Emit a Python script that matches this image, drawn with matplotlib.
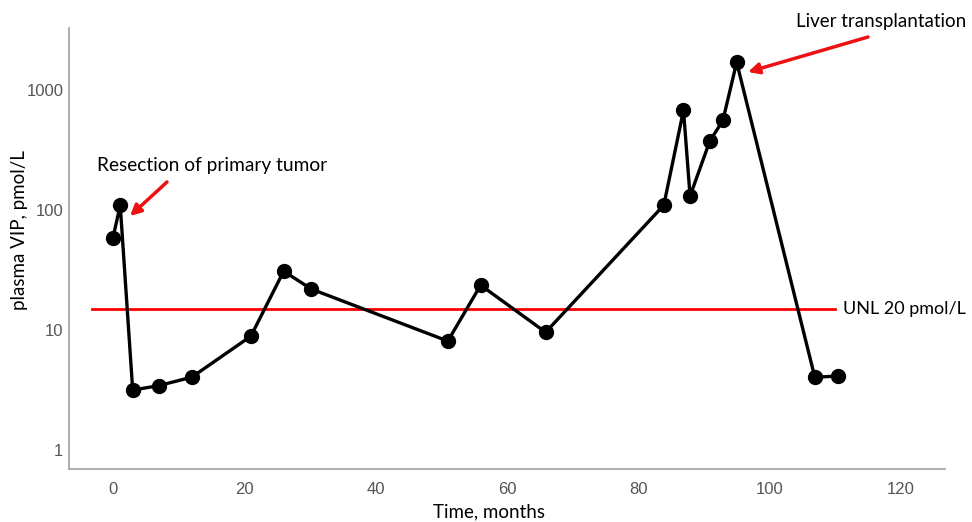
import matplotlib
matplotlib.use("Agg")
import matplotlib.pyplot as plt

months = [0, 1.1, 3.0, 7.0, 12.0, 21.0, 26.0, 30.2, 51.0, 56.0, 65.9,
          83.9, 86.9, 87.9, 90.9, 92.9, 95.0, 106.9, 110.5]
vip = [59, 110, 3.16, 3.45, 4.05, 8.9, 31, 22, 8.1, 23.7, 9.6,
       110, 680, 131, 376, 560, 1710, 4.05, 4.14]
unl_value = 15
unl_span = [-3.2, 110.0]
xticks = [0, 20, 40, 60, 80, 100, 120]
yticks = [1, 10, 100, 1000]
ytick_labels = ["1", "10", "100", "1000"]

fig = plt.figure(figsize=(9.72, 5.22), dpi=100)
ax = fig.add_axes([0.071, 0.1015, 0.901, 0.8445])
ax.set_yscale("log")
ax.set_xlim(-6.7, 126.7)
ax.set_ylim(0.695, 3290)

ax.plot(unl_span, [unl_value, unl_value], color="#ff0000", lw=2.0, zorder=2)
ax.plot(months, vip, color="black", lw=2.4, marker="o", markersize=10, zorder=3)

ax.set_xticks(xticks)
ax.set_xticklabels([str(t) for t in xticks])
ax.set_yticks(yticks)
ax.set_yticklabels(ytick_labels)
ax.minorticks_off()
ax.tick_params(axis="both", length=0, labelsize=12, labelcolor="#555555")
ax.tick_params(axis="x", pad=9)
ax.tick_params(axis="y", pad=4)
for lab in ax.get_xticklabels() + ax.get_yticklabels():
    lab.set_family("Liberation Sans")

for s in ["top", "right"]:
    ax.spines[s].set_visible(False)
for s in ["left", "bottom"]:
    ax.spines[s].set_color("#a0a0a0")
    ax.spines[s].set_linewidth(1.2)

ax.set_xlabel("Time, months", fontsize=13.5, family="Lato")
ax.set_ylabel("plasma VIP, pmol/L", fontsize=13.5, family="Lato")
ax.xaxis.set_label_coords(0.48, -0.097)
ax.xaxis.label.set_va("center")
ax.yaxis.set_label_coords(-0.056, 0.542)
ax.yaxis.label.set_va("center")

H = 522
ax.text(97, H - 165, "Resection of primary tumor", transform=None,
        fontsize=13.8, family="Lato", va="center", ha="left")
ax.text(796, H - 22, "Liver transplantation", transform=None, fontsize=13.5,
        family="Lato", va="center", ha="left")
ax.text(843, H - 309, "UNL 20 pmol/L", transform=None, fontsize=13,
        family="Lato", va="center", ha="left")

# annotation arrows (figure pixel coordinates)
ax.annotate("", xy=(130, H - 216), xytext=(167, H - 182),
            xycoords="figure pixels", textcoords="figure pixels",
            arrowprops=dict(arrowstyle="-|>", color="#ee1111", lw=2.5,
                            mutation_scale=16, shrinkA=0, shrinkB=0))
ax.annotate("", xy=(748, H - 72), xytext=(868, H - 37),
            xycoords="figure pixels", textcoords="figure pixels",
            arrowprops=dict(arrowstyle="-|>", color="#ee1111", lw=2.5,
                            mutation_scale=16, shrinkA=0, shrinkB=0))

fig.savefig("out.png", dpi=100)
